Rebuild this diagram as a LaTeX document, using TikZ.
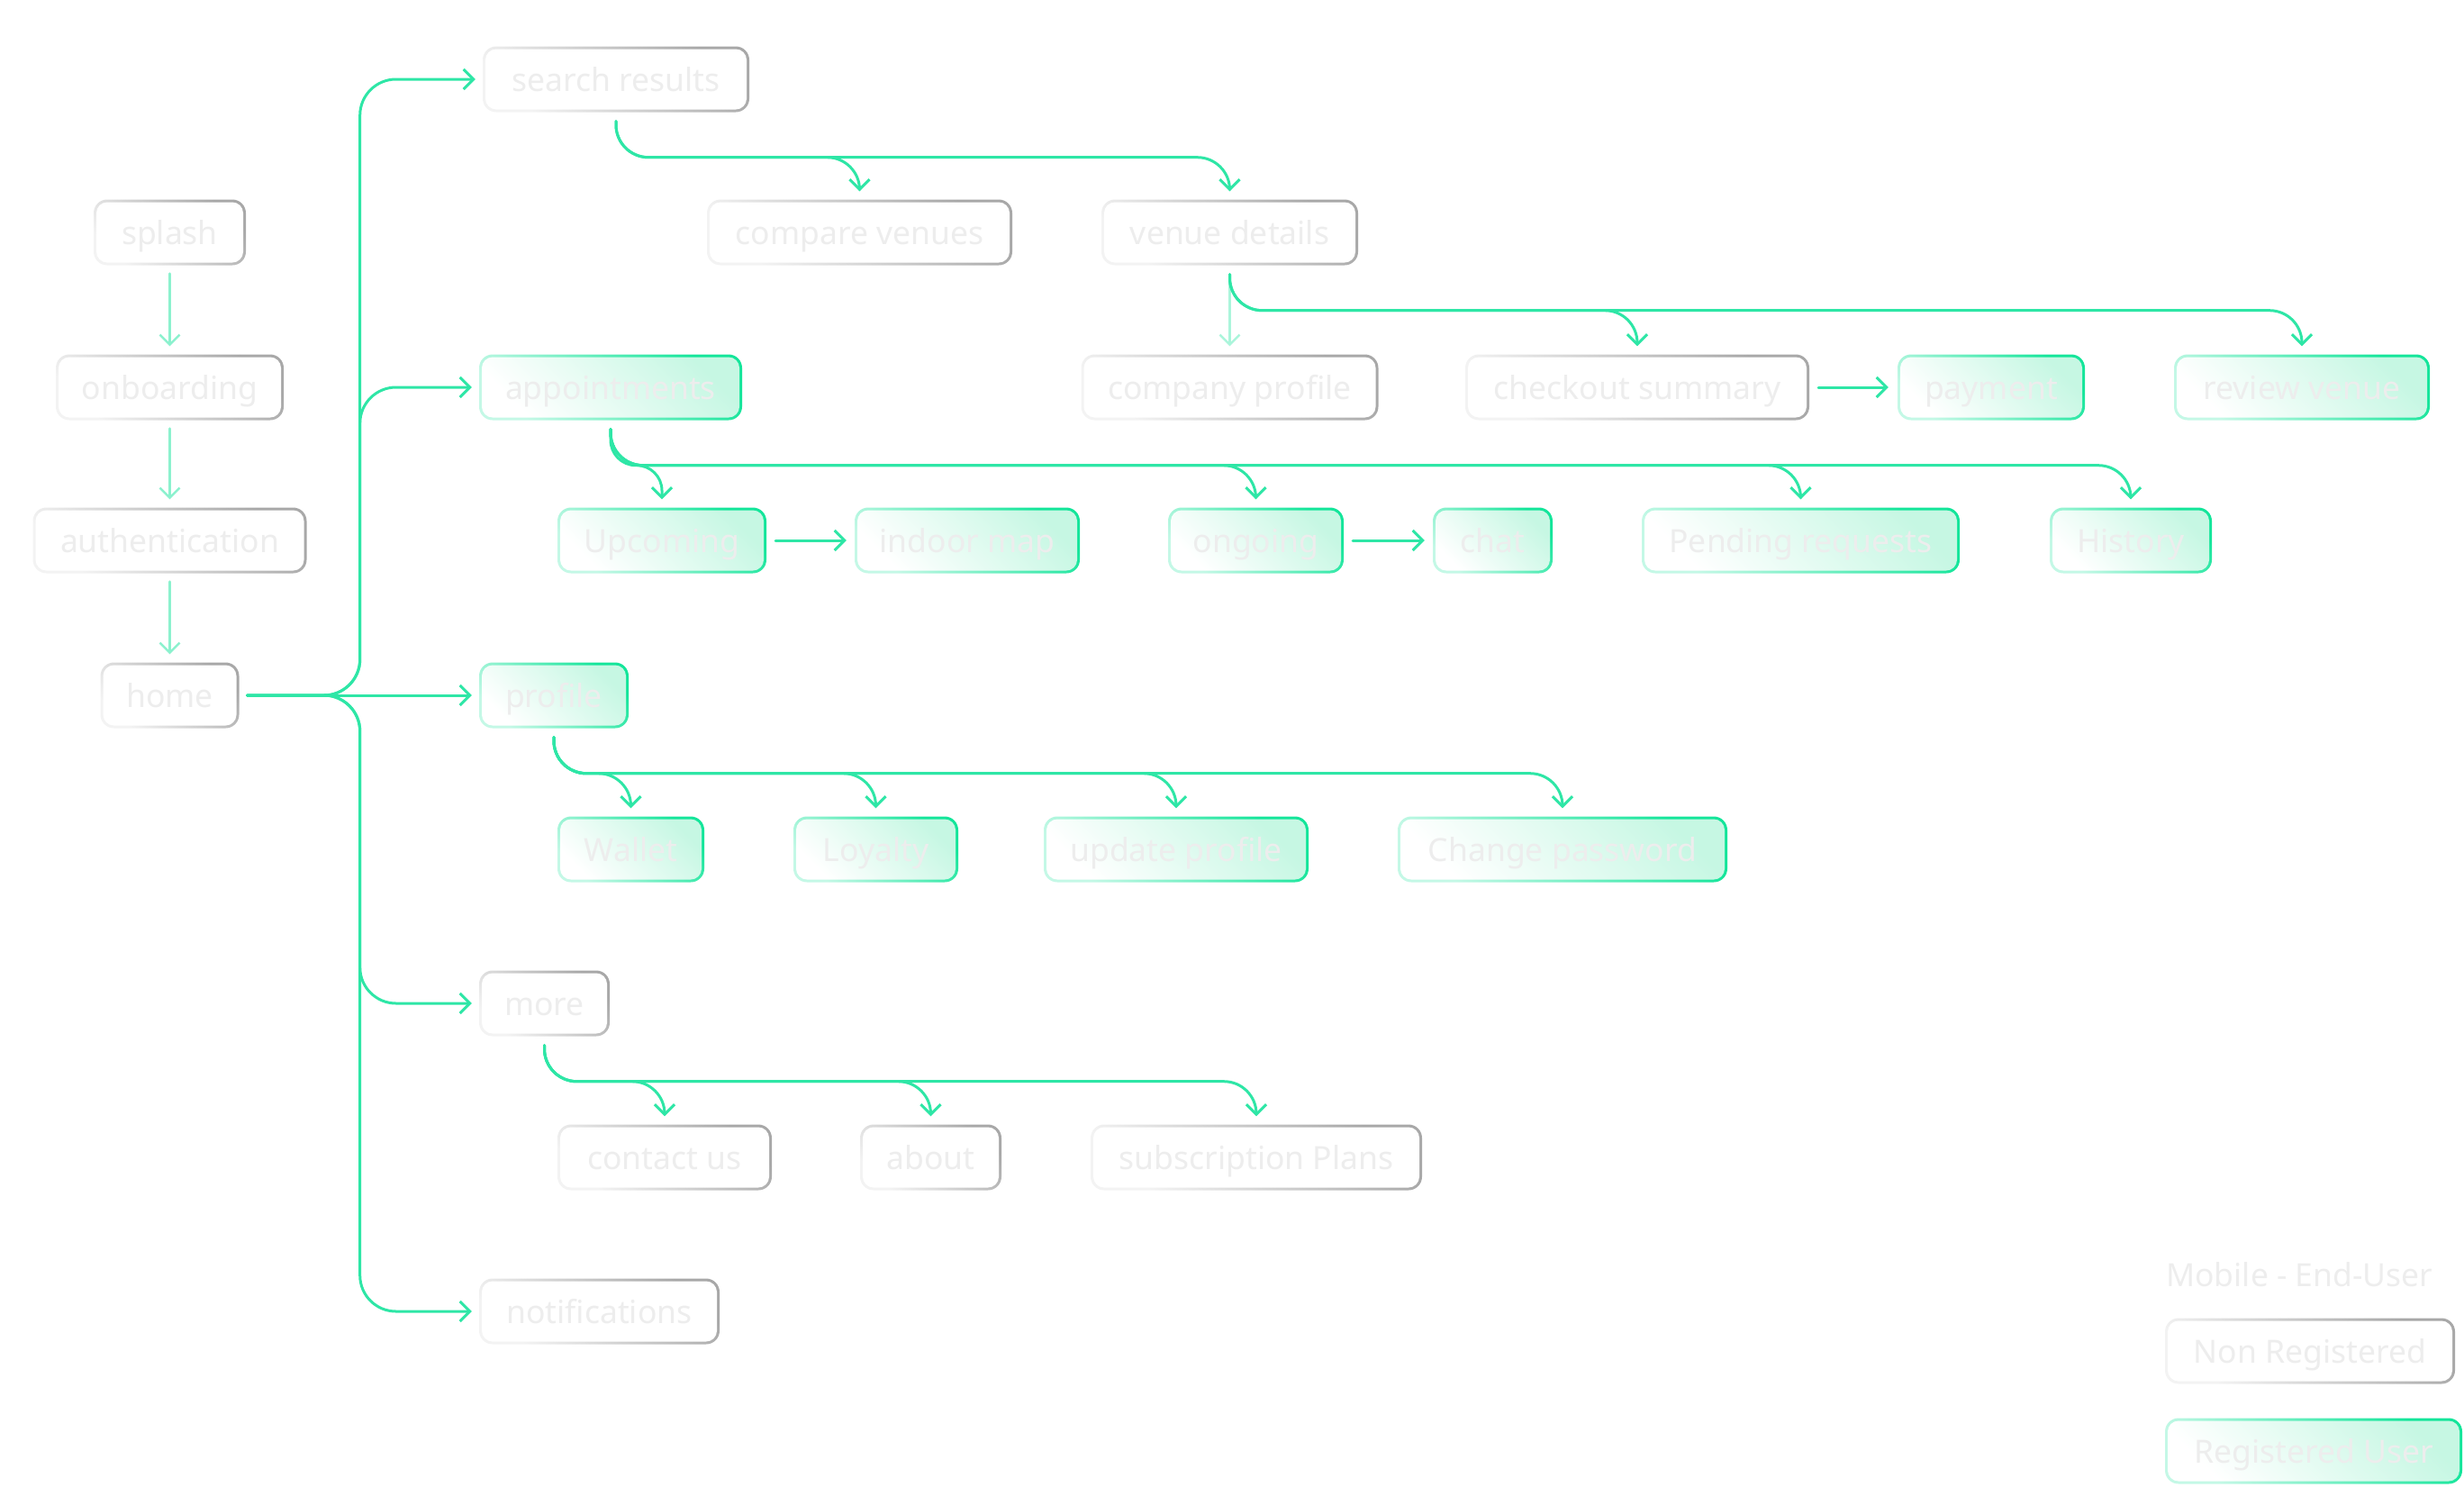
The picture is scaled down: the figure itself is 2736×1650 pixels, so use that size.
\documentclass[tikz,border=0pt]{standalone}
\usepackage{fontspec}
\setmainfont{Noto Sans}
\usetikzlibrary{arrows.meta}
\definecolor{linkgreen}{HTML}{2EE6A6}
\definecolor{regdark}{HTML}{14E59A}
\definecolor{reglight}{HTML}{C4F8E6}
\definecolor{regfill}{HTML}{C6F7E3}
\definecolor{graydark}{HTML}{A8A8A8}
\definecolor{graylight}{HTML}{F3F3F3}
\definecolor{labelgray}{HTML}{EDEDED}
\newcommand{\boxfont}{\fontsize{35.5}{42}\selectfont}
\begin{document}
\begin{tikzpicture}
    [x=1pt,y=-1pt,line cap=round,line join=round,
     screen/.style={rectangle,rounded corners=15pt,minimum height=73pt,inner sep=0pt,
        text height=26pt,text depth=0pt,text=labelgray,font=\boxfont},
     nonreg/.style={screen,path picture={
        \shade[top color=graydark,bottom color=graylight,shading angle=-45]
          (path picture bounding box.south west) rectangle (path picture bounding box.north east);
        \fill[white,rounded corners=12pt]
          ([shift={(3pt,3pt)}]path picture bounding box.south west) rectangle
          ([shift={(-3pt,-3pt)}]path picture bounding box.north east);}},
     reg/.style={screen,path picture={
        \shade[top color=regdark,bottom color=reglight,shading angle=-45]
          (path picture bounding box.south west) rectangle (path picture bounding box.north east);
        \shade[top color=regfill,bottom color=white,shading angle=-45,rounded corners=12pt]
          ([shift={(3pt,3pt)}]path picture bounding box.south west) rectangle
          ([shift={(-3pt,-3pt)}]path picture bounding box.north east);}},
     link/.style={draw=linkgreen,line width=3pt,rounded corners=36pt,
        -{Straight Barb[length=11pt,width=22pt]}},
     trunk/.style={link,rounded corners=40pt},
     stem/.style={link,draw=linkgreen!55,line width=2.5pt},
     fade/.style={link,draw=linkgreen!40,line width=2.5pt}]
\useasboundingbox (0,0) rectangle (2736,1650);

%left column
\node[nonreg,minimum width=169pt] (splash) at (188.5,258) {splash};
\node[nonreg,minimum width=253pt] (onboard) at (188.5,430) {onboarding};
\node[nonreg,minimum width=304pt] (auth) at (188.5,600) {authentication};
\node[nonreg,minimum width=154pt] (home) at (188.5,772) {home};

%main screens
\node[nonreg,minimum width=296pt] (search) at (684,88) {search results};
\node[reg,minimum width=292pt] (appt) at (678,430) {appointments};
\node[reg,minimum width=166pt] (profile) at (615,772) {profile};
\node[nonreg,minimum width=145pt] (more) at (604.5,1114) {more};
\node[nonreg,minimum width=267pt] (notif) at (665.5,1456) {notifications};

%search branch
\node[nonreg,minimum width=339pt] (compare) at (954.5,258) {compare venues};
\node[nonreg,minimum width=285pt] (venue) at (1365.5,258) {venue details};
\node[nonreg,minimum width=330pt] (company) at (1365.5,430) {company profile};
\node[nonreg,minimum width=382pt] (checkout) at (1818,430) {checkout summary};
\node[reg,minimum width=208pt] (payment) at (2211,430) {payment};
\node[reg,minimum width=284pt] (review) at (2556,430) {review venue};

%appointments branch
\node[reg,minimum width=232pt] (upcoming) at (735,600) {Upcoming};
\node[reg,minimum width=250pt] (indoor) at (1074,600) {indoor map};
\node[reg,minimum width=195pt] (ongoing) at (1394.5,600) {ongoing};
\node[reg,minimum width=133pt] (chat) at (1657.5,600) {chat};
\node[reg,minimum width=353pt] (pending) at (1999.5,600) {Pending requests};
\node[reg,minimum width=180pt] (history) at (2366,600) {History};

%profile branch
\node[reg,minimum width=163pt] (wallet) at (700.5,943) {Wallet};
\node[reg,minimum width=183pt] (loyalty) at (972.5,943) {Loyalty};
\node[reg,minimum width=294pt] (update) at (1306,943) {update profile};
\node[reg,minimum width=366pt] (password) at (1735,943) {Change password};

%more branch
\node[nonreg,minimum width=238pt] (contact) at (738,1285) {contact us};
\node[nonreg,minimum width=157pt] (about) at (1033.5,1285) {about};
\node[nonreg,minimum width=368pt] (plans) at (1395,1285) {subscription Plans};

%legend
\node[anchor=west,text=labelgray,font=\boxfont,inner sep=0pt] (legtitle) at (2405,1415) {Mobile - End-User};
\node[nonreg,minimum width=322pt] (legnon) at (2565,1500) {Non Registered};
\node[reg,minimum width=330pt] (legreg) at (2569,1611) {Registered User};

%start flow
\draw[stem] ([yshift=-9pt]splash.south) -- ([yshift=9pt]onboard.north);
\draw[stem] ([yshift=-9pt]onboard.south) -- ([yshift=9pt]auth.north);
\draw[stem] ([yshift=-9pt]auth.south) -- ([yshift=9pt]home.north);

%home trunk
\draw[trunk] ([xshift=9pt]home.east) -- ++(125,0) |- ([xshift=-8pt]search.west);
\draw[trunk] ([xshift=9pt]home.east) -- ++(125,0) |- ([xshift=-8pt]appt.west);
\draw[trunk] ([xshift=9pt]home.east) -- ([xshift=-8pt]profile.west);
\draw[trunk] ([xshift=9pt]home.east) -- ++(125,0) |- ([xshift=-8pt]more.west);
\draw[trunk] ([xshift=9pt]home.east) -- ++(125,0) |- ([xshift=-8pt]notif.west);

%search results
\draw[link] ([yshift=-10pt]search.south) -- ++(0,40) -| ([yshift=9pt]compare.north);
\draw[link] ([yshift=-10pt]search.south) -- ++(0,40) -| ([yshift=9pt]venue.north);

%venue details
\draw[fade] ([yshift=-10pt]venue.south) -- ([yshift=9pt]company.north);
\draw[link] ([yshift=-10pt]venue.south) -- ++(0,40) -| ([yshift=9pt]checkout.north);
\draw[link] ([yshift=-10pt]venue.south) -- ++(0,40) -| ([yshift=9pt]review.north);
\draw[link] ([xshift=10pt]checkout.east) -- ([xshift=-10pt]payment.west);

%appointments
\draw[link,rounded corners=28pt] ([yshift=-10pt]appt.south) -- ++(0,40) -| ([yshift=9pt]upcoming.north);
\draw[link] ([yshift=-10pt]appt.south) -- ++(0,40) -| ([yshift=9pt]ongoing.north);
\draw[link] ([yshift=-10pt]appt.south) -- ++(0,40) -| ([yshift=9pt]pending.north);
\draw[link] ([yshift=-10pt]appt.south) -- ++(0,40) -| ([yshift=9pt]history.north);
\draw[link] ([xshift=10pt]upcoming.east) -- ([xshift=-9pt]indoor.west);
\draw[link] ([xshift=10pt]ongoing.east) -- ([xshift=-9pt]chat.west);

%profile
\draw[link] ([yshift=-10pt]profile.south) -- ++(0,40) -| ([yshift=9pt]wallet.north);
\draw[link] ([yshift=-10pt]profile.south) -- ++(0,40) -| ([yshift=9pt]loyalty.north);
\draw[link] ([yshift=-10pt]profile.south) -- ++(0,40) -| ([yshift=9pt]update.north);
\draw[link] ([yshift=-10pt]profile.south) -- ++(0,40) -| ([yshift=9pt]password.north);

%more
\draw[link] ([yshift=-10pt]more.south) -- ++(0,40) -| ([yshift=9pt]contact.north);
\draw[link] ([yshift=-10pt]more.south) -- ++(0,40) -| ([yshift=9pt]about.north);
\draw[link] ([yshift=-10pt]more.south) -- ++(0,40) -| ([yshift=9pt]plans.north);

\end{tikzpicture}
\end{document}
